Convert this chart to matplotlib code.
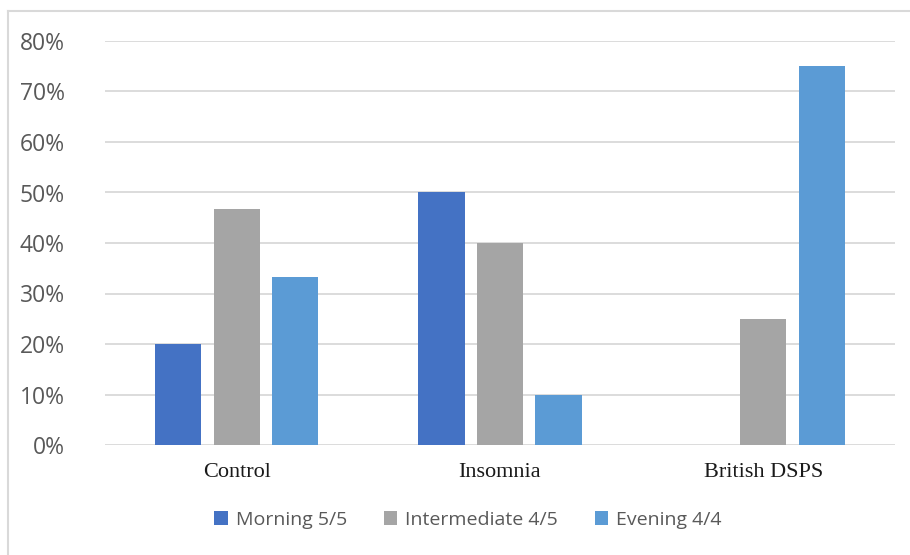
import numpy as np
import matplotlib.pyplot as plt
from matplotlib.ticker import PercentFormatter
from matplotlib.lines import Line2D

# Groupes et pourcentages par chronotype
groups = ['Control', 'Insomnia', 'British DSPS']
series_names = ['Morning 5/5', 'Intermediate 4/5', 'Evening 4/4']
morning = [20.0, 50.0, 0.0]
intermediate = [46.7, 40.0, 25.0]
evening = [33.3, 10.0, 75.0]
colors = ['#4472C4', '#A5A5A5', '#5B9BD5']

W, H = 910, 555
fig = plt.figure(figsize=(W / 100, H / 100), dpi=100)
ax = fig.add_axes([105 / W, 110 / H, 790 / W, 404 / H])

x = np.arange(len(groups))
bar_w = 0.175
step = 0.222
for i, (vals, name, col) in enumerate(zip([morning, intermediate, evening], series_names, colors)):
    ax.bar(x + (i - 1) * step, vals, width=bar_w, color=col, label=name, zorder=3)

ax.set_xlim(-0.5, 2.5)
ax.set_ylim(0, 80)
ax.set_yticks(np.arange(0, 81, 10))
ax.yaxis.set_major_formatter(PercentFormatter(decimals=0))
ax.grid(axis='y', color='#D9D9D9', linewidth=1.3, zorder=0)
for s in ax.spines.values():
    s.set_visible(False)
ax.tick_params(axis='both', length=0)
ax.tick_params(axis='y', pad=29, labelsize=16.5, labelcolor='#595959')
for lab in ax.get_yticklabels():
    lab.set_fontfamily('Open Sans')

ax.set_xticks(x)
ax.set_xticklabels(groups, fontfamily='Liberation Serif', fontsize=16, color='#1a1a1a')
ax.tick_params(axis='x', pad=13)

# Légende en bas, centrée
leg = fig.legend(loc='center', bbox_to_anchor=(468 / W, 35 / H), ncol=3, frameon=False,
                 prop={'family': 'Open Sans', 'size': 14}, handlelength=0.7, handleheight=0.7,
                 handletextpad=0.4, columnspacing=1.9)
for t in leg.get_texts():
    t.set_color('#595959')

# Cadre du graphique (haut et gauche)
fig.add_artist(Line2D([8 / W, 1], [1 - 11 / H, 1 - 11 / H], color='#D9D9D9', linewidth=1.5))
fig.add_artist(Line2D([8 / W, 8 / W], [0, 1 - 11 / H], color='#D9D9D9', linewidth=1.5))

fig.savefig('out.png', dpi=100)
